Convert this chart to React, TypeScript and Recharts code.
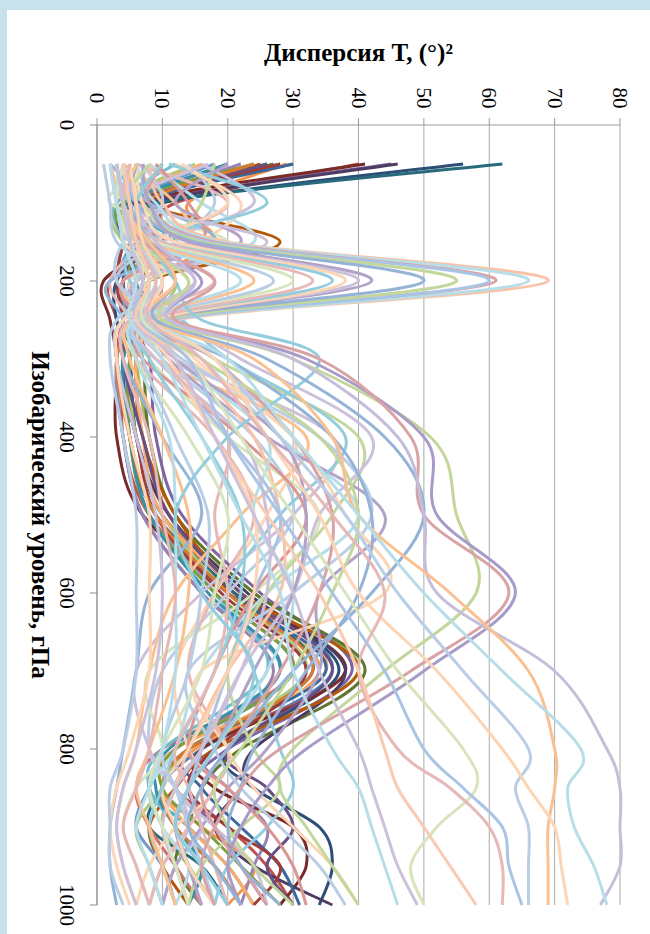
import { LineChart, Line, XAxis, YAxis, CartesianGrid } from 'recharts';

// pressure levels (hPa) and axis ticks
const levels = [50, 100, 150, 200, 250, 300, 400, 500, 600, 700, 800, 850, 900, 950, 1000];
const varianceTicks = [0, 10, 20, 30, 40, 50, 60, 70, 80];
const levelTicks = [0, 200, 400, 600, 800, 1000];

// variance of T at each level, one array per profile
// dark profiles: spike at 50 hPa, max near 700 hPa
const s01 = [28, 6, 4, 3, 4, 5, 6, 10, 22, 36, 16, 10, 12, 18, 22];
const s02 = [40, 12, 10, 2, 3, 4, 4, 8, 20, 38, 14, 12, 20, 26, 30];
const s03 = [30, 5, 9, 4, 6, 6, 8, 12, 24, 40, 18, 12, 10, 14, 18];
const s04 = [45, 7, 5, 6, 5, 8, 9, 13, 25, 39, 20, 14, 18, 22, 26];
const s05 = [26, 4, 12, 5, 7, 4, 5, 9, 18, 30, 12, 8, 14, 20, 24];
const s06 = [29, 14, 18, 8, 8, 6, 7, 11, 20, 34, 15, 10, 16, 24, 20];
const s07 = [56, 10, 8, 3, 3, 5, 6, 10, 22, 37, 20, 24, 34, 36, 34];
const s08 = [41, 6, 9, 1, 2, 3, 3, 7, 21, 38, 16, 18, 30, 32, 28];
const s09 = [27, 5, 7, 4, 5, 7, 8, 12, 24, 41, 22, 16, 14, 12, 16];
const s10 = [46, 8, 6, 5, 6, 4, 6, 11, 23, 38, 24, 22, 18, 24, 36];
const s11 = [62, 9, 7, 4, 4, 5, 5, 9, 21, 33, 14, 10, 8, 16, 20];
const s12 = [25, 8, 28, 8, 9, 6, 7, 12, 22, 40, 18, 12, 8, 10, 14];
const s13 = [18, 4, 5, 3, 5, 3, 4, 7, 16, 28, 12, 8, 6, 10, 12];
const s14 = [20, 5, 6, 10, 7, 4, 5, 9, 18, 30, 10, 6, 8, 12, 16];
const s15 = [15, 3, 4, 12, 8, 5, 6, 10, 20, 32, 14, 10, 6, 8, 10];
const s16 = [22, 6, 5, 8, 6, 3, 4, 7, 16, 27, 16, 20, 26, 24, 22];
const s17 = [12, 3, 4, 6, 4, 4, 5, 8, 18, 26, 10, 8, 12, 14, 18];
const s18 = [16, 4, 6, 14, 9, 6, 7, 10, 22, 35, 12, 10, 14, 20, 24];
const s19 = [30, 6, 5, 4, 5, 4, 5, 9, 20, 35, 14, 16, 22, 28, 31];
const s20 = [28, 5, 4, 3, 4, 3, 6, 9, 19, 32, 18, 14, 20, 28, 24];
const s21 = [24, 4, 5, 5, 7, 5, 5, 8, 18, 30, 12, 10, 16, 22, 28];
const s22 = [26, 6, 6, 4, 5, 4, 7, 11, 22, 36, 20, 26, 30, 26, 30];
const s23 = [20, 5, 7, 6, 8, 4, 5, 8, 17, 28, 11, 9, 12, 16, 14];
const s24 = [24, 7, 9, 7, 6, 3, 5, 9, 20, 33, 14, 10, 12, 18, 22];
// low profiles
const s25 = [14, 18, 12, 6, 8, 10, 24, 30, 20, 10, 8, 12, 16, 12, 10];
const s26 = [12, 22, 16, 5, 10, 14, 30, 26, 18, 12, 14, 18, 12, 8, 6];
const s27 = [10, 2, 20, 8, 6, 8, 20, 34, 24, 8, 10, 6, 4, 6, 8];
const s28 = [16, 24, 10, 3, 12, 12, 36, 30, 16, 6, 8, 12, 14, 10, 8];
const s29 = [8, 16, 24, 6, 9, 16, 28, 40, 26, 16, 12, 8, 10, 14, 12];
const s30 = [6, 20, 8, 2, 5, 6, 18, 24, 18, 14, 20, 18, 14, 10, 8];
const s31 = [4, 12, 14, 4, 7, 9, 32, 22, 12, 8, 6, 4, 3, 4, 6];
const s32 = [2, 8, 18, 2, 4, 4, 10, 16, 8, 6, 4, 3, 2, 2, 3];
const s33 = [18, 16, 12, 9, 11, 18, 40, 36, 26, 20, 24, 28, 22, 16, 14];
const s34 = [20, 12, 22, 6, 8, 11, 26, 44, 34, 34, 26, 20, 16, 12, 10];
const s35 = [11, 26, 7, 5, 13, 20, 38, 28, 20, 24, 28, 30, 26, 20, 18];
const s36 = [9, 14, 16, 4, 6, 7, 22, 32, 24, 18, 14, 20, 26, 30, 32];
const s37 = [7, 10, 4, 3, 9, 13, 34, 42, 30, 14, 18, 22, 28, 34, 38];
const s38 = [13, 20, 9, 7, 10, 15, 30, 38, 44, 16, 20, 24, 30, 36, 40];
const s39 = [17, 6, 26, 6, 12, 22, 42, 34, 30, 22, 16, 12, 18, 24, 26];
// profiles peaking at 200 hPa
const s40 = [8, 10, 20, 69, 12, 14, 24, 28, 28, 20, 14, 12, 10, 12, 14];
const s41 = [6, 9, 19, 66, 11, 12, 26, 24, 30, 26, 18, 14, 12, 16, 18];
const s42 = [10, 8, 18, 61, 10, 18, 30, 36, 34, 28, 20, 16, 18, 22, 26];
const s43 = [7, 8, 17, 60, 11, 10, 20, 28, 24, 20, 16, 14, 12, 14, 16];
const s44 = [5, 7, 16, 55, 10, 16, 34, 40, 36, 30, 22, 18, 20, 24, 30];
const s45 = [4, 6, 15, 50, 9, 20, 36, 42, 40, 32, 24, 22, 20, 22, 28];
const s46 = [7, 8, 14, 42, 9, 12, 28, 32, 30, 24, 18, 14, 12, 14, 16];
const s47 = [3, 5, 12, 40, 8, 9, 22, 26, 26, 22, 16, 12, 10, 12, 14];
const s48 = [6, 7, 12, 38, 9, 11, 18, 24, 24, 20, 14, 10, 12, 14, 18];
const s49 = [4, 5, 10, 36, 7, 8, 16, 22, 22, 18, 12, 10, 8, 10, 12];
const s50 = [5, 6, 10, 33, 8, 10, 20, 18, 20, 18, 12, 14, 16, 18, 20];
const s51 = [3, 4, 9, 30, 6, 6, 14, 20, 18, 16, 10, 8, 10, 12, 14];
const s52 = [6, 5, 8, 27, 7, 7, 12, 17, 16, 14, 10, 12, 14, 16, 18];
const s53 = [2, 4, 8, 24, 6, 5, 10, 14, 14, 12, 8, 6, 8, 10, 12];
const s54 = [4, 3, 7, 22, 6, 6, 11, 12, 12, 12, 10, 8, 6, 8, 10];
const s55 = [3, 4, 6, 18, 5, 4, 8, 10, 12, 10, 8, 6, 4, 6, 8];
const s56 = [2, 3, 5, 15, 4, 3, 6, 9, 10, 9, 6, 4, 3, 4, 6];
const s57 = [5, 6, 4, 12, 4, 3, 5, 8, 8, 8, 5, 3, 2, 3, 5];
const s58 = [1, 2, 3, 10, 3, 2, 4, 6, 6, 6, 4, 2, 2, 2, 4];
// mid and low troposphere maxima
const s59 = [10, 6, 8, 12, 16, 34, 20, 12, 16, 24, 18, 14, 12, 16, 20];
const s60 = [8, 4, 6, 14, 10, 30, 51, 55, 58, 44, 30, 28, 32, 36, 40];
const s61 = [6, 5, 8, 16, 11, 32, 50, 52, 64, 50, 32, 26, 22, 20, 22];
const s62 = [5, 4, 7, 18, 12, 34, 48, 50, 63, 48, 28, 22, 18, 16, 18];
const s63 = [6, 5, 8, 12, 9, 26, 44, 50, 42, 30, 20, 16, 14, 18, 22];
const s64 = [4, 6, 9, 15, 11, 30, 46, 50, 52, 70, 78, 80, 80, 80, 77];
const s65 = [6, 4, 8, 12, 8, 24, 36, 40, 54, 66, 70, 70, 69, 69, 69];
const s66 = [4, 5, 6, 10, 8, 20, 30, 40, 50, 62, 74, 72, 73, 76, 78];
const s67 = [3, 4, 6, 9, 7, 18, 28, 38, 46, 56, 66, 64, 66, 66, 66];
const s68 = [5, 6, 7, 10, 8, 18, 26, 34, 40, 52, 62, 66, 70, 71, 72];
const s69 = [4, 3, 5, 8, 7, 14, 22, 30, 38, 46, 56, 58, 52, 48, 50];
const s70 = [5, 4, 6, 9, 8, 16, 26, 36, 44, 40, 46, 54, 60, 62, 62];
const s71 = [3, 4, 5, 7, 6, 14, 20, 28, 36, 44, 50, 56, 62, 63, 65];
const s72 = [4, 5, 6, 8, 6, 12, 18, 26, 34, 40, 44, 46, 50, 54, 58];
const s73 = [3, 4, 5, 7, 5, 12, 18, 24, 30, 34, 40, 42, 44, 46, 49];
const s74 = [2, 3, 4, 6, 5, 10, 16, 22, 28, 30, 36, 40, 42, 44, 46];

const profiles = [
  s01, s02, s03, s04, s05, s06, s07, s08, s09, s10, s11, s12, s13, s14, s15, s16, s17, s18, s19, s20,
  s21, s22, s23, s24, s25, s26, s27, s28, s29, s30, s31, s32, s33, s34, s35, s36, s37, s38, s39, s40,
  s41, s42, s43, s44, s45, s46, s47, s48, s49, s50, s51, s52, s53, s54, s55, s56, s57, s58, s59, s60,
  s61, s62, s63, s64, s65, s66, s67, s68, s69, s70, s71, s72, s73, s74,
];

const colors = [
  '#4F81BD', '#C0504D', '#9BBB59', '#8064A2', '#4BACC6', '#F79646',
  '#2C4D75', '#772C2A', '#5F7530', '#4D3B62', '#276A7C', '#B65708',
  '#729ACA', '#CD7371', '#AFC97A', '#9983B5', '#6FBDD1', '#F9AB6B',
  '#3A679C', '#9F3B38', '#7E9D40', '#664F82', '#3590A8', '#D87A2E',
  // low
  '#B9CDE5', '#FCD5B5', '#D7E4BD', '#CCC1DA', '#B7DEE8', '#E6B9B8', '#FAC090', '#95B3D7',
  '#C3D69B', '#B3A2C7', '#93CDDD', '#D99694', '#B9CDE5', '#FCD5B5', '#CCC1DA',
  // 200 hPa peaks
  '#F8C3A8', '#B7DEE8', '#D9A3A6', '#A9C4E4', '#C3D69B', '#95B3D7', '#B3A2C7', '#CCC1DA',
  '#FCD5B5', '#93CDDD', '#E6B9B8', '#D7E4BD', '#B9CDE5', '#FAC090', '#B7DEE8', '#E6B9B8',
  '#CCC1DA', '#FCD5B5', '#B9CDE5',
  // mid / low maxima
  '#93CDDD', '#C3D69B', '#A99BC9', '#D9A3A6', '#95B3D7', '#C5BEDB', '#FAC090', '#B7DEE8',
  '#B9CDE5', '#FCD5B5', '#D7E4BD', '#E6B9B8', '#A9C4E4', '#F9CBB0', '#CCC1DA', '#B7DEE8',
];

const data = levels.map((p, i) => {
  const row: Record<string, number> = { p };
  profiles.forEach((s, k) => {
    row['s' + k] = s[i];
  });
  return row;
});

// Excel-like smoothed line (bezier through points, 1/6 tangents)
const excelSmooth = (context: any) => {
  let pts: number[][] = [];
  return {
    areaStart() {},
    areaEnd() {},
    lineStart() {
      pts = [];
    },
    lineEnd() {
      const n = pts.length;
      if (!n) return;
      context.moveTo(pts[0][0], pts[0][1]);
      for (let i = 0; i < n - 1; i++) {
        const a = pts[Math.max(i - 1, 0)];
        const b = pts[i];
        const c = pts[i + 1];
        const d = pts[Math.min(i + 2, n - 1)];
        context.bezierCurveTo(
          b[0] + (c[0] - a[0]) / 6,
          b[1] + (c[1] - a[1]) / 6,
          c[0] - (d[0] - b[0]) / 6,
          c[1] - (d[1] - b[1]) / 6,
          c[0],
          c[1]
        );
      }
    },
    point(x: number, y: number) {
      pts.push([x, y]);
    },
  };
};

const serif = { fontFamily: 'Liberation Serif, Times New Roman, serif' };

const TopTick = ({ x, y, payload }: any) => (
  <text
    x={x}
    y={y - 18}
    transform={`rotate(90, ${x}, ${y - 18})`}
    textAnchor="middle"
    dominantBaseline="central"
    style={serif}
    fontSize={21}
    fill="#000"
  >
    {payload.value}
  </text>
);

const LeftTick = ({ x, y, payload }: any) => (
  <text
    x={x - 21}
    y={y}
    transform={`rotate(90, ${x - 21}, ${y})`}
    textAnchor="middle"
    dominantBaseline="central"
    style={serif}
    fontSize={21}
    fill="#000"
  >
    {payload.value}
  </text>
);

const TopTitle = ({ viewBox }: any) => (
  <text
    x={viewBox.x + viewBox.width / 2}
    y={viewBox.y - 33}
    textAnchor="middle"
    dominantBaseline="central"
    style={serif}
    fontWeight="bold"
    fontSize={25}
    fill="#000"
  >
    Дисперсия T, (°)²
  </text>
);

const LeftTitle = ({ viewBox }: any) => {
  const cx = viewBox.x - 7;
  const cy = viewBox.y + viewBox.height / 2;
  return (
    <text
      x={cx}
      y={cy}
      transform={`rotate(90, ${cx}, ${cy})`}
      textAnchor="middle"
      dominantBaseline="central"
      style={serif}
      fontWeight="bold"
      fontSize={25}
      fill="#000"
    >
      Изобарический уровень, гПа
    </text>
  );
};

export default function App() {
  return (
    <div style={{ position: 'absolute', left: 0, top: 0, width: 650, height: 934, background: '#c8e1ea' }}>
      <div style={{ position: 'absolute', left: 7, top: 10, width: 643, height: 924, background: '#fff' }} />
      <div style={{ position: 'absolute', left: 0, top: 0 }}>
        <LineChart
          width={650}
          height={934}
          data={data}
          layout="vertical"
          margin={{ top: 85, left: 47, right: 30, bottom: 29 }}
        >
          <CartesianGrid vertical horizontal={false} stroke="#ababab" />
          <XAxis
            type="number"
            orientation="top"
            domain={[0, 80]}
            ticks={varianceTicks}
            interval={0}
            height={40}
            tickSize={7}
            axisLine={{ stroke: '#9a9a9a' }}
            tickLine={{ stroke: '#9a9a9a' }}
            tick={TopTick}
            label={{ content: TopTitle }}
          />
          <YAxis
            type="number"
            dataKey="p"
            domain={[0, 1000]}
            ticks={levelTicks}
            interval={0}
            width={50}
            tickSize={7}
            axisLine={{ stroke: '#8a8a8a' }}
            tickLine={{ stroke: '#8a8a8a' }}
            tick={LeftTick}
            label={{ content: LeftTitle }}
          />
          {profiles.map((_, k) => (
            <Line
              key={k}
              dataKey={'s' + k}
              type={excelSmooth as any}
              stroke={colors[k]}
              strokeWidth={3}
              dot={false}
              activeDot={false}
              isAnimationActive={false}
            />
          ))}
        </LineChart>
      </div>
    </div>
  );
}
